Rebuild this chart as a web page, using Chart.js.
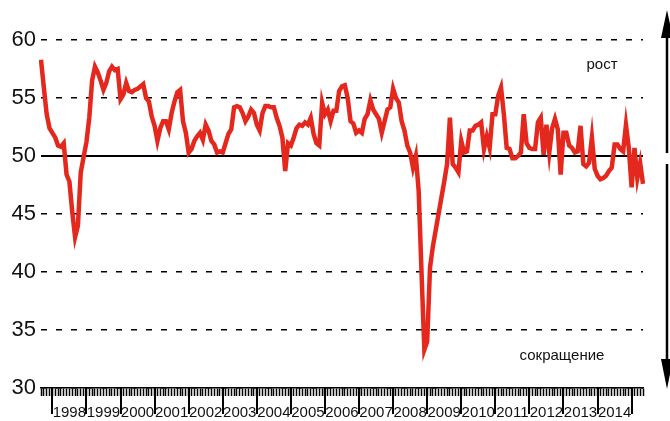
<!DOCTYPE html>
<html><head><meta charset="utf-8">
<script src="https://cdn.jsdelivr.net/npm/chart.js@4/dist/chart.umd.min.js"></script>
<style>html,body{margin:0;padding:0;background:#fff;}#wrap{width:670px;height:421px;position:relative;}</style>
</head><body><div id="wrap"><canvas id="c" width="670" height="421"></canvas></div>
<script>
const firstYear = 1997;
const firstMonth = 9;
const pmi1997 = [58.3, 55.9, 53.6, 52.4];
const pmi1998 = [52.0, 51.6, 50.9, 50.8, 51.1, 48.4, 47.8, 45.2, 43.0, 44.0, 48.6, 49.9];
const pmi1999 = [51.2, 53.3, 56.5, 57.7, 57.2, 56.5, 55.7, 56.3, 57.3, 57.7, 57.4, 57.5];
const pmi2000 = [54.9, 55.3, 56.3, 55.6, 55.5, 55.7, 55.8, 56.0, 56.2, 55.0, 54.7, 53.4];
const pmi2001 = [52.6, 51.3, 52.4, 53.0, 53.0, 52.3, 53.7, 54.7, 55.5, 55.7, 53.0, 52.0];
const pmi2002 = [50.3, 50.6, 51.3, 51.7, 52.0, 51.4, 52.7, 52.2, 51.3, 51.0, 50.3, 50.4];
const pmi2003 = [50.3, 51.1, 51.9, 52.3, 54.2, 54.3, 54.2, 53.7, 53.0, 53.4, 54.0, 53.7];
const pmi2004 = [52.7, 52.2, 53.7, 54.3, 54.3, 54.2, 54.2, 53.3, 52.6, 51.6, 48.7, 51.1];
const pmi2005 = [50.9, 51.6, 52.4, 52.7, 52.6, 52.9, 52.7, 53.3, 51.9, 51.1, 50.9, 54.6];
const pmi2006 = [53.6, 54.0, 53.0, 53.9, 53.9, 55.6, 56.0, 56.1, 55.0, 53.0, 52.8, 52.0];
const pmi2007 = [52.2, 52.0, 53.2, 53.6, 54.8, 54.0, 53.6, 53.2, 52.0, 53.0, 54.0, 54.2];
const pmi2008 = [55.8, 55.0, 54.6, 53.0, 52.2, 50.9, 50.3, 49.0, 50.0, 47.0, 40.0, 33.3];
const pmi2009 = [34.0, 40.4, 42.2, 43.6, 45.0, 46.4, 47.8, 49.3, 53.3, 49.3, 49.0, 48.6];
const pmi2010 = [51.3, 50.3, 50.4, 52.2, 52.2, 52.6, 52.7, 52.9, 50.6, 51.7, 50.7, 53.6];
const pmi2011 = [53.6, 55.2, 55.9, 53.6, 50.7, 50.6, 49.8, 49.8, 50.0, 50.3, 53.6, 51.1];
const pmi2012 = [50.7, 50.6, 50.6, 52.9, 53.3, 50.1, 52.7, 50.3, 52.4, 53.2, 52.3, 48.4];
const pmi2013 = [52.0, 52.0, 50.9, 50.7, 50.3, 50.4, 52.6, 49.3, 49.1, 49.4, 51.6, 48.9];
const pmi2014 = [48.3, 48.0, 48.1, 48.3, 48.7, 49.0, 51.0, 51.0, 50.6, 50.4, 52.7, 50.7];
const pmi2015 = [47.3, 50.7, 48.1, 49.4, 47.6];
const lastLabelledYear = 2014;
const yMin = 30, yMax = 60, yStep = 5, neutral = 50;
const upText = 'рост';
const downText = 'сокращение';

const yearSeries = [pmi1997, pmi1998, pmi1999, pmi2000, pmi2001, pmi2002, pmi2003, pmi2004, pmi2005,
  pmi2006, pmi2007, pmi2008, pmi2009, pmi2010, pmi2011, pmi2012, pmi2013, pmi2014, pmi2015];
const values = [];
const categories = [];
yearSeries.forEach((arr, k) => {
  const yr = firstYear + k;
  const m0 = k === 0 ? firstMonth : 1;
  arr.forEach((v, j) => { values.push(v); categories.push({year: yr, month: m0 + j}); });
});
const labels = categories.map(c => c.year + '-' + String(c.month).padStart(2, '0'));

const FONT = '"Liberation Sans", Arial, sans-serif';

const decor = {
  id: 'decor',
  afterDraw(chart) {
    const c = chart.ctx, xs = chart.scales.x, ys = chart.scales.y;
    c.save();
    // year ticks
    c.strokeStyle = '#000'; c.lineWidth = 2;
    categories.forEach((cat, i) => {
      if (cat.month !== 1) return;
      const px = Math.round(xs.getPixelForValue(i));
      c.beginPath(); c.moveTo(px, xs.top); c.lineTo(px, xs.top + 26); c.stroke();
    });
    // arrows
    const ax = 667;
    const yTop = ys.getPixelForValue(yMax) - 30;
    const yBot = ys.getPixelForValue(yMin);
    const yN = ys.getPixelForValue(neutral);
    c.fillStyle = '#000'; c.lineWidth = 2.5;
    c.beginPath(); c.moveTo(ax, yTop + 26); c.lineTo(ax, yN - 3); c.stroke();
    c.beginPath(); c.moveTo(ax, yTop); c.lineTo(ax - 6, yTop + 28); c.lineTo(ax + 6, yTop + 28); c.closePath(); c.fill();
    c.beginPath(); c.moveTo(ax, yN + 8); c.lineTo(ax, yBot - 26); c.stroke();
    c.beginPath(); c.moveTo(ax, yBot + 1); c.lineTo(ax - 6, yBot - 29); c.lineTo(ax + 6, yBot - 29); c.closePath(); c.fill();
    // texts
    c.font = '15px ' + FONT; c.fillStyle = '#111'; c.textAlign = 'center'; c.textBaseline = 'middle';
    c.fillText(upText, 602, ys.getPixelForValue(57.9));
    c.fillText(downText, 562, ys.getPixelForValue(32.8));
    c.restore();
  }
};

new Chart(document.getElementById('c'), {
  type: 'line',
  data: { labels, datasets: [{ data: values, borderColor: '#e4281d', borderWidth: 4.5, pointRadius: 0, tension: 0, fill: false }] },
  options: {
    responsive: false, animation: false, devicePixelRatio: 1,
    layout: { padding: { left: 0, right: 27, top: 40, bottom: 0 } },
    plugins: { legend: { display: false }, tooltip: { enabled: false } },
    scales: {
      x: {
        type: 'category', offset: false,
        grid: { display: true, drawOnChartArea: false, drawTicks: true, tickLength: 8, tickColor: '#000', tickWidth: 1.5 },
        border: { display: true, color: '#000', width: 1.5 },
        ticks: {
          autoSkip: false, maxRotation: 0, minRotation: 0, padding: 8, labelOffset: 17,
          font: { family: FONT, size: 15 }, color: '#111',
          callback: (v, i) => (categories[i].month === 1 && categories[i].year <= lastLabelledYear) ? String(categories[i].year) : ''
        },
        afterFit: s => { s.height = 33; }
      },
      y: {
        min: yMin, max: yMax,
        ticks: { stepSize: yStep, padding: 5, font: { family: FONT, size: 22 }, color: '#111' },
        grid: { color: '#000', lineWidth: ctx => (ctx.tick && ctx.tick.value === neutral) ? 2 : 1.5, drawTicks: false },
        border: { display: false, dash: ctx => (ctx.tick && ctx.tick.value === neutral) ? [] : [6, 9] },
        afterFit: s => { s.width = 41; }
      }
    }
  },
  plugins: [decor]
});
</script>
</body></html>
